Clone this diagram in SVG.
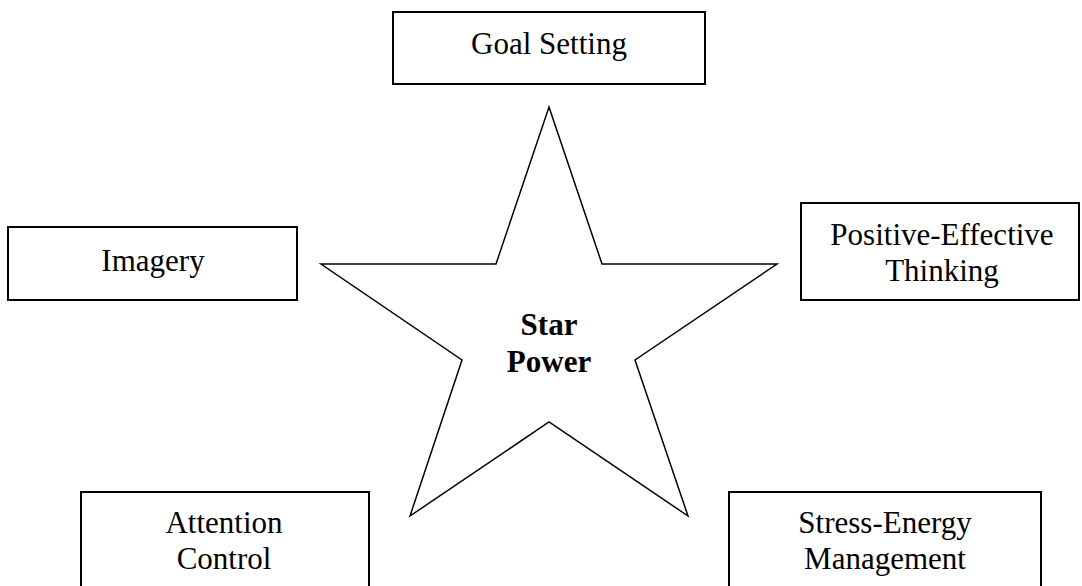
<svg xmlns="http://www.w3.org/2000/svg" width="1082" height="586" viewBox="0 0 1082 586">
<style>
.box{fill:#fff;stroke:#000;stroke-width:2}
.star{fill:#fff;stroke:#000;stroke-width:1.5;stroke-linejoin:miter}
</style>
<rect width="1082" height="586" fill="#fff"/>
<g id="connectors"></g>
<g font-family="'Liberation Serif', 'Times New Roman', Times, serif" font-size="31" fill="#000" text-anchor="middle">
<g id="star">
<polygon class="star" points="549,107 602,264 777,264 635,360 688,516 549,422 410,516 462,360 321,264 496,264"/>
<text font-weight="bold" x="549" y="335">Star</text>
<text font-weight="bold" x="549" y="372">Power</text>
</g>
<g id="goal">
<rect class="box" x="393" y="12" width="312" height="72"/>
<text x="549" y="54">Goal Setting</text>
</g>
<g id="imagery">
<rect class="box" x="8" y="227" width="289" height="73"/>
<text x="153" y="271">Imagery</text>
</g>
<g id="positive">
<rect class="box" x="801" y="203" width="278" height="97"/>
<text x="942" y="245">Positive-Effective</text>
<text x="942" y="281">Thinking</text>
</g>
<g id="attention">
<rect class="box" x="81" y="492" width="288" height="100"/>
<text x="224" y="533">Attention</text>
<text x="224" y="569">Control</text>
</g>
<g id="stress">
<rect class="box" x="729" y="492" width="312" height="100"/>
<text x="885" y="533">Stress-Energy</text>
<text x="885" y="569">Management</text>
</g>
</g>
</svg>
